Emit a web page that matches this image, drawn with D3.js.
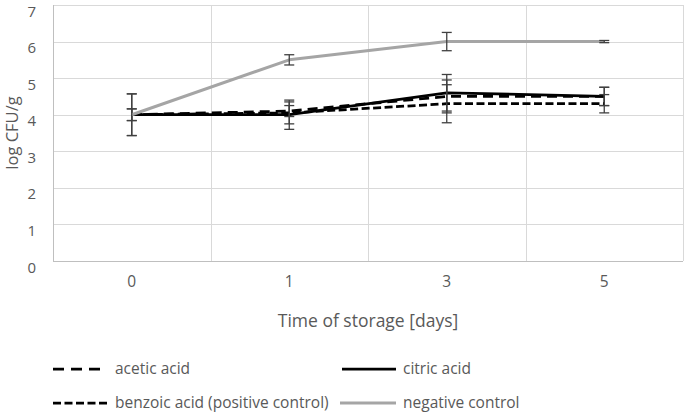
<!DOCTYPE html>
<html>
<head>
<meta charset="utf-8">
<script src="https://cdn.jsdelivr.net/npm/d3@7/dist/d3.min.js"></script>
<style>
  html, body { margin: 0; padding: 0; background: #fff; }
  svg { display: block; }
  text { font-family: "Open Sans", "Noto Sans", sans-serif; fill: #595959; }
</style>
</head>
<body>
<svg id="chart" width="685" height="414"></svg>
<script>
// ---- data ----
const categories = ["0", "1", "3", "5"];
const yTicks = [0, 1, 2, 3, 4, 5, 6, 7];
const seriesNames = ["acetic acid", "citric acid", "benzoic acid (positive control)", "negative control"];
const aceticAcid = [4.0, 4.1, 4.5, 4.5];
const citricAcid = [4.0, 4.0, 4.6, 4.5];
const benzoicAcid = [4.0, 4.05, 4.3, 4.3];
const negativeControl = [4.0, 5.5, 6.0, 6.0];
const aceticErr = [0.16, 0.15, 0.45, 0.25];
const citricErr = [0.57, 0.4, 0.5, 0.25];
const benzoicErr = [0.16, 0.3, 0.52, 0.25];
const negativeErr = [0.57, 0.14, 0.25, 0.03];
const xTitle = "Time of storage [days]";
const yTitle = "log CFU/g";

(function () {
// ---- styles ----
const styles = [
  { color: "#000000", width: 2.75, dash: "10,6", legendDash: "11,7" },
  { color: "#000000", width: 2.75, dash: null, legendDash: null },
  { color: "#000000", width: 2.75, dash: "8,3.5", legendDash: "8,3.5" },
  { color: "#a5a5a5", width: 3, dash: null, legendDash: null }
];
const series = [
  { name: seriesNames[0], values: aceticAcid, err: aceticErr },
  { name: seriesNames[1], values: citricAcid, err: citricErr },
  { name: seriesNames[2], values: benzoicAcid, err: benzoicErr },
  { name: seriesNames[3], values: negativeControl, err: negativeErr }
];

const svg = d3.select("#chart");
const mLeft = 53, mRight = 683, mTop = 5, mBottom = 261;

const x = d3.scaleBand().domain(categories).range([mLeft, mRight]);
const y = d3.scaleLinear().domain([0, 7]).range([mBottom, mTop]);

// gridlines
const grid = svg.append("g");
grid.selectAll("line.h").data(yTicks.filter(d => d > 0)).join("line")
  .attr("x1", mLeft).attr("x2", mRight)
  .attr("y1", d => Math.round(y(d)) + 0.5).attr("y2", d => Math.round(y(d)) + 0.5)
  .attr("stroke", "#d9d9d9").attr("stroke-width", 1);
const vEdges = categories.slice(1).map(c => x(c)).concat([mRight]);
grid.selectAll("line.v").data(vEdges).join("line")
  .attr("x1", d => Math.round(d) + 0.5).attr("x2", d => Math.round(d) + 0.5)
  .attr("y1", mTop).attr("y2", mBottom)
  .attr("stroke", "#d9d9d9").attr("stroke-width", 1);

// axes lines
svg.append("line").attr("x1", mLeft + 0.5).attr("x2", mLeft + 0.5).attr("y1", mTop).attr("y2", mBottom)
  .attr("stroke", "#bfbfbf").attr("stroke-width", 1);
svg.append("line").attr("x1", mLeft).attr("x2", mRight).attr("y1", Math.round(y(0)) + 0.5).attr("y2", Math.round(y(0)) + 0.5)
  .attr("stroke", "#bfbfbf").attr("stroke-width", 1);

// y tick labels
const yAxis = d3.axisLeft(y).tickValues(yTicks).tickSize(0).tickPadding(17).tickFormat(d3.format("d"));
const gy = svg.append("g").attr("transform", `translate(${mLeft},0)`).call(yAxis);
gy.select(".domain").remove();
gy.selectAll("text").style("font-size", "15px").style("fill", "#595959").style("font-family", "Open Sans")
  .attr("dy", "0.74em");

// x tick labels
const xAxis = d3.axisBottom(x).tickSize(0).tickPadding(15);
const gx = svg.append("g").attr("transform", `translate(0,${mBottom})`).call(xAxis);
gx.select(".domain").remove();
gx.selectAll("text").style("font-size", "15.5px").style("fill", "#595959").style("font-family", "Open Sans");

// axis titles
svg.append("text").attr("x", (mLeft + mRight) / 2).attr("y", 327).attr("text-anchor", "middle")
  .style("font-size", "17.5px").text(xTitle);
svg.append("text").attr("transform", "translate(18,133) rotate(-90)").attr("text-anchor", "middle")
  .style("font-size", "16.5px").text(yTitle);

// series
const cx = c => x(c) + x.bandwidth() / 2;
const lineGen = d3.line().x(d => cx(d.c)).y(d => y(d.v));
series.forEach((s, i) => {
  const st = styles[i];
  const pts = categories.map((c, j) => ({ c, v: s.values[j], e: s.err[j] }));
  const g = svg.append("g");
  g.append("path").datum(pts).attr("d", lineGen)
    .attr("fill", "none").attr("stroke", st.color).attr("stroke-width", st.width)
    .attr("stroke-dasharray", st.dash).attr("stroke-linejoin", "round");
  const eb = g.selectAll("g.eb").data(pts).join("g");
  const cap = 5;
  eb.append("line").attr("x1", d => cx(d.c)).attr("x2", d => cx(d.c))
    .attr("y1", d => y(d.v + d.e)).attr("y2", d => y(d.v - d.e))
    .attr("stroke", "#404040").attr("stroke-width", 1.3);
  eb.append("line").attr("x1", d => cx(d.c) - cap).attr("x2", d => cx(d.c) + cap)
    .attr("y1", d => y(d.v + d.e)).attr("y2", d => y(d.v + d.e))
    .attr("stroke", "#404040").attr("stroke-width", 1.3);
  eb.append("line").attr("x1", d => cx(d.c) - cap).attr("x2", d => cx(d.c) + cap)
    .attr("y1", d => y(d.v - d.e)).attr("y2", d => y(d.v - d.e))
    .attr("stroke", "#404040").attr("stroke-width", 1.3);
});

// legend
const legendPos = [
  { lx1: 53, lx2: 100, tx: 115, y: 369 },
  { lx1: 342, lx2: 396, tx: 403, y: 369 },
  { lx1: 53, lx2: 108, tx: 115, y: 403 },
  { lx1: 340, lx2: 396, tx: 403, y: 403 }
];
series.forEach((s, i) => {
  const st = styles[i], p = legendPos[i];
  svg.append("line").attr("x1", p.lx1).attr("x2", p.lx2).attr("y1", p.y).attr("y2", p.y)
    .attr("stroke", st.color).attr("stroke-width", st.width).attr("stroke-dasharray", st.legendDash);
  svg.append("text").attr("x", p.tx).attr("y", p.y).attr("dy", "0.35em")
    .style("font-size", "15.5px").text(s.name);
});
})();
</script>
</body>
</html>
